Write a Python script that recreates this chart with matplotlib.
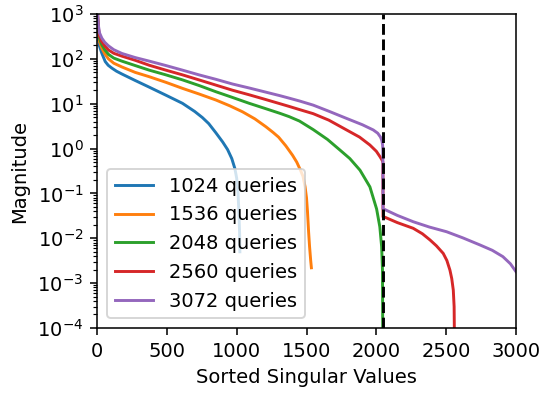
import matplotlib
matplotlib.use("Agg")
import matplotlib.pyplot as plt

# singular value spectra (index, magnitude)
x_1024 = [0, 5, 10, 18, 35, 59, 80, 107, 140, 178, 273, 374, 493, 612, 700, 755, 800, 851, 900,
          935, 965, 987, 1000, 1010, 1017, 1021, 1023]
y_1024 = [2000, 600, 300, 190, 132, 87, 72, 62, 53, 46, 33, 23.4, 15.5, 10.2, 6.7, 4.9, 3.6, 2.25, 1.4,
          0.95, 0.6, 0.36, 0.22, 0.1, 0.032, 0.013, 0.005]

x_1536 = [0, 5, 10, 18, 35, 55, 82, 120, 178, 273, 374, 493, 612, 730, 851, 950, 1042, 1130, 1209,
          1260, 1300, 1352, 1400, 1430, 1455, 1475, 1490, 1500, 1507, 1515, 1522, 1530, 1535]
y_1536 = [2000, 700, 380, 240, 172, 130, 100, 80, 66, 50, 40, 30, 22, 16.5, 12.1, 9.0, 6.6, 4.6, 3.07,
          2.3, 1.8, 1.15, 0.71, 0.5, 0.34, 0.24, 0.14, 0.08, 0.04, 0.014, 0.0065, 0.0032, 0.0022]

x_2048 = [0, 5, 10, 18, 35, 55, 82, 120, 178, 273, 374, 493, 612, 730, 851, 970, 1090, 1200, 1310,
          1376, 1450, 1548, 1650, 1739, 1810, 1883, 1954, 2002, 2025, 2038, 2044, 2047]
y_2048 = [2000, 800, 450, 280, 204, 160, 126, 104, 89, 71, 56, 44, 34, 25.5, 18.5, 13.8, 10.2, 7.9, 6.1,
          5.15, 4.1, 2.65, 1.6, 0.93, 0.6, 0.33, 0.14, 0.045, 0.018, 0.0065, 0.002, 0.00001]

x_2560 = [0, 5, 10, 18, 35, 55, 82, 120, 178, 273, 374, 493, 612, 730, 851, 970, 1090, 1200, 1310,
          1376, 1450, 1548, 1660, 1787, 1880, 1954, 2000, 2026, 2040, 2047,
          2048, 2061, 2150, 2264, 2330, 2384, 2430, 2479, 2505, 2527, 2540, 2551, 2557, 2560]
y_2560 = [2000, 900, 500, 320, 240, 195, 158, 133, 115, 93, 72, 56, 44, 34, 26, 20, 15.8, 12.6, 10.0,
          8.7, 7.4, 6.0, 4.3, 2.6, 1.8, 1.2, 0.87, 0.66, 0.56, 0.5,
          0.030, 0.0295, 0.0224, 0.0167, 0.0126, 0.0092, 0.0068, 0.0046, 0.0032, 0.00195, 0.00126,
          0.0007, 0.0003, 0.00003]

x_3072 = [0, 5, 10, 18, 35, 55, 82, 120, 178, 273, 374, 493, 612, 730, 851, 970, 1090, 1200, 1310,
          1376, 1450, 1548, 1660, 1787, 1900, 1978, 2010, 2030, 2040, 2045, 2047,
          2048, 2061, 2150, 2264, 2380, 2503, 2620, 2742, 2830, 2906, 2960, 3000]
y_3072 = [2000, 1000, 560, 380, 288, 235, 195, 160, 132, 107, 89, 71, 56, 44, 35, 27.5, 22.4, 18.4, 15.1,
          13.3, 11.5, 9.3, 6.8, 4.7, 3.4, 2.6, 2.2, 1.8, 1.5, 1.2, 0.9,
          0.045, 0.0437, 0.0324, 0.0234, 0.0178, 0.014, 0.0102, 0.0071, 0.0054, 0.0039, 0.0027, 0.0018]

labels = ["1024 queries", "1536 queries", "2048 queries", "2560 queries", "3072 queries"]
series = [(x_1024, y_1024), (x_1536, y_1536), (x_2048, y_2048), (x_2560, y_2560), (x_3072, y_3072)]
threshold = 2048

fig, ax = plt.subplots(figsize=(542 / 140, 394 / 140), dpi=140)

for (xs, ys), lab in zip(series, labels):
    ax.plot(xs, ys, label=lab)

ax.axvline(threshold, color="k", linestyle="--")

ax.set_yscale("log")
ax.set_xlim(0, 3000)
ax.set_ylim(1e-4, 1e3)
ax.set_xlabel("Sorted Singular Values")
ax.set_ylabel("Magnitude")
ax.legend(loc="lower left")

fig.subplots_adjust(left=97 / 542, right=516 / 542, top=1 - 14 / 394, bottom=1 - 328 / 394)
fig.savefig("out.png", dpi=140)
